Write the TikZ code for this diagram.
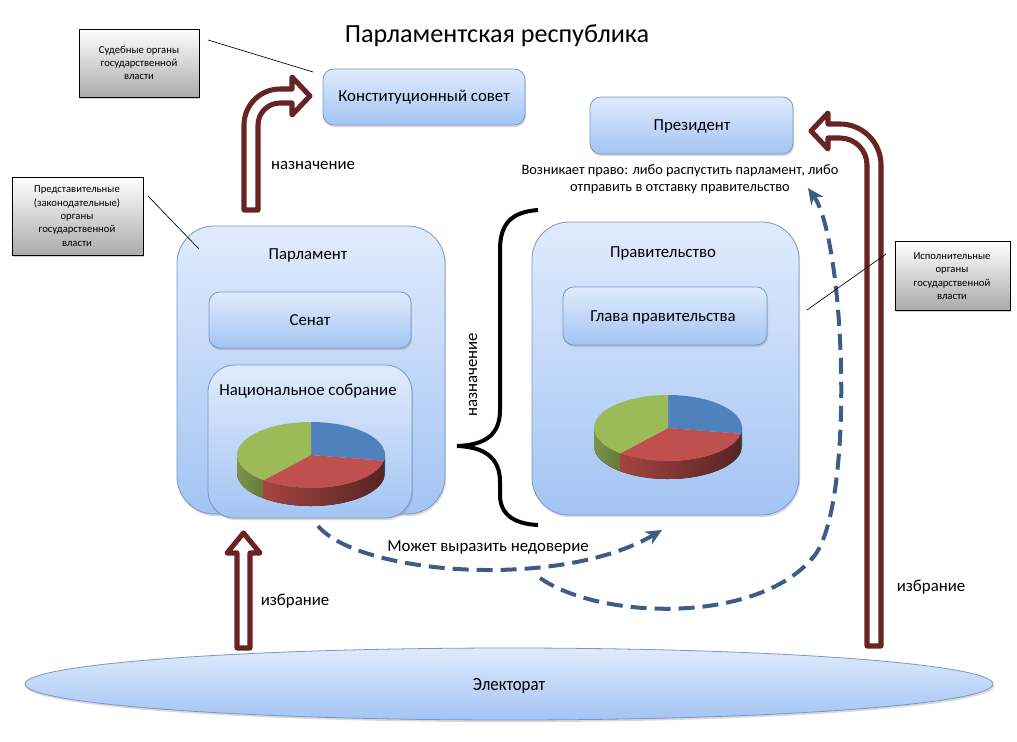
\documentclass[tikz,border=0pt]{standalone}
\usepackage{fontspec}
\setmainfont{Carlito}
\usetikzlibrary{shadows,fit,arrows.meta,shapes.geometric}
\definecolor{boxtop}{RGB}{224,235,252}
\definecolor{boxbot}{RGB}{163,196,243}
\definecolor{boxline}{RGB}{120,150,200}
\definecolor{arrowred}{RGB}{106,35,35}
\definecolor{dashblue}{RGB}{62,92,136}
\definecolor{pieblue}{RGB}{79,129,189}
\definecolor{piered}{RGB}{192,80,77}
\definecolor{piegreen}{RGB}{155,187,89}
\newcommand\drawpie[2]{%
  \begin{scope}[shift={(#1,#2)},yscale=-1]
    \fill[left color=piegreen!80!black, right color=piegreen!65!black]
      (-180:74 and 33) arc[start angle=-180,end angle=-130,x radius=74,y radius=33]
      -- ++(0,-18) arc[start angle=-130,end angle=-180,x radius=74,y radius=33] -- cycle;
    \fill[left color=piered!85!black, right color=piered!45!black]
      (-130:74 and 33) arc[start angle=-130,end angle=-10,x radius=74,y radius=33]
      -- ++(0,-18) arc[start angle=-10,end angle=-130,x radius=74,y radius=33] -- cycle;
    \fill[pieblue!60!black]
      (-10:74 and 33) arc[start angle=-10,end angle=0,x radius=74,y radius=33]
      -- ++(0,-18) arc[start angle=0,end angle=-10,x radius=74,y radius=33] -- cycle;
    \fill[pieblue] (0,0) -- (90:74 and 33) arc[start angle=90,end angle=-10,x radius=74,y radius=33] -- cycle;
    \fill[piered] (0,0) -- (-10:74 and 33) arc[start angle=-10,end angle=-130,x radius=74,y radius=33] -- cycle;
    \fill[piegreen] (0,0) -- (-130:74 and 33) arc[start angle=-130,end angle=-270,x radius=74,y radius=33] -- cycle;
  \end{scope}}
\begin{document}
\begin{tikzpicture}[x=0.75pt,y=-0.75pt,
  bluebox/.style={draw=boxline, line width=0.6pt, top color=boxtop, bottom color=boxbot,
    drop shadow={shadow xshift=0.8pt,shadow yshift=-1.6pt,opacity=0.3}, inner sep=0pt},
  notebox/.style={draw=black, line width=0.7pt, top color=white, bottom color=black!33,
    drop shadow={shadow xshift=1pt,shadow yshift=-1.5pt,opacity=0.35}, inner sep=0pt},
  lbl/.style={font=\fontsize{12.6}{15}\selectfont},
  notetxt/.style={align=center, font=\fontsize{8}{10}\selectfont},
  hollow/.style={draw=arrowred, fill=white, line width=3.8pt, line join=round},
  dasharrow/.style={draw=dashblue, line width=3pt, dash pattern=on 12pt off 6pt,
    -{Stealth[length=12pt,width=11pt]}},
  pointer/.style={draw=black, line width=0.5pt}]
\useasboundingbox (0,0) rectangle (1017,742);

% title
\node[font=\fontsize{19.6}{23}\selectfont] (title) at (497,36) {Парламентская республика};

% electorate
\node[ellipse, draw=boxline, line width=0.6pt, top color=boxtop, bottom color=boxbot,
  drop shadow={shadow xshift=0.8pt,shadow yshift=-1.6pt,opacity=0.3},
  minimum width=726pt, minimum height=54pt, inner sep=0pt] (elec) at (509,684) {};
\node[font=\fontsize{14}{16}\selectfont] (elecT) at (509,686) {\scalebox{0.9}[1]{Электорат}};

% big boxes
\node[bluebox, rounded corners=28pt, fit={(177,226) (445,514)}] (parl) {};
\node[bluebox, rounded corners=28pt, fit={(532,222) (799,515)}] (gov) {};
\node[bluebox, rounded corners=8pt, fit={(209,292) (411,348)}] (senat) {};
\node[bluebox, rounded corners=20pt, fit={(208,365) (412,518)}] (nac) {};
\node[bluebox, rounded corners=8pt, fit={(563,287) (767,345)}] (glava) {};
\node[bluebox, rounded corners=8pt, fit={(323,69) (525,125)}] (ks) {};
\node[bluebox, rounded corners=8pt, fit={(590,97) (793,154)}] (prez) {};

\node[lbl] (parlT) at (308,255) {Парламент};
\node[lbl] (senatT) at (310,320) {Сенат};
\node[lbl] (nacT) at (308,391) {Национальное собрание};
\node[lbl] (govT) at (663,253) {Правительство};
\node[lbl] (glavaT) at (663,317) {Глава правительства};
\node[lbl] (ksT) at (424,97) {Конституционный совет};
\node[lbl] (prezT) at (692,126) {Президент};

% pies
\drawpie{311}{455}
\drawpie{668}{428}

% notes
\node[notebox, fit={(79,29) (199,97)}] (n1) {};
\node[notetxt] (n1T) at (139,63) {Судебные органы\\государственной\\власти};
\node[notebox, fit={(12,177) (143,255)}] (n2) {};
\node[notetxt] (n2T) at (77,216) {Представительные\\(законодательные)\\органы\\государственной\\власти};
\node[notebox, fit={(895,241) (1010,310)}] (n3) {};
\node[notetxt] (n3T) at (952,276) {Исполнительные\\органы\\государственной\\власти};

% text
\node[align=center, font=\fontsize{10.8}{12.75}\selectfont] (pravo) at (680,179)
  {Возникает право: либо распустить парламент, либо\\отправить в отставку правительство};
\node[lbl] (naz1) at (313,165) {назначение};
\node[lbl, rotate=90] (naz2) at (473,375) {назначение};
\node[lbl] (izb1) at (295,601) {избрание};
\node[lbl] (izb2) at (931,587) {избрание};
\node[lbl] (nedov) at (488,547) {Может выразить недоверие};

% brace
\draw[line width=3pt] (538,210) .. controls (510,212) and (500,225) .. (500,250)
  -- (500,410) .. controls (500,435) and (485,445) .. (457,446)
  .. controls (485,447) and (500,458) .. (500,482)
  -- (500,495) .. controls (500,515) and (515,524) .. (538,525);

% hollow arrows
\draw[hollow] (237,648) -- (237,553) -- (227,553) -- (243.5,533) -- (260,553) -- (250,553) -- (250,648) -- cycle;
\draw[hollow] (244,210) -- (244,125) arc[start angle=180,end angle=270,radius=36]
  -- (292,89) -- (292,77) -- (310,96) -- (292,115) -- (292,103) -- (280,103)
  arc[start angle=270,end angle=180,radius=22] -- (258,210) -- cycle;
\draw[hollow] (867,646) -- (867,165) arc[start angle=0,end angle=-90,radius=27]
  -- (828,138) -- (828,149) -- (811,131) -- (828,113) -- (828,124) -- (840,124)
  arc[start angle=-90,end angle=0,radius=41] -- (881,646) -- cycle;

% dashed arrows
\coordinate (d1s) at (318,526);
\coordinate (d1e) at (662,530);
\draw[dasharrow] (d1s) .. controls (360,575) and (560,590) .. (d1e);
\coordinate (d2s) at (540,578);
\coordinate (d2e) at (808,188);
\draw[dasharrow] (d2s) .. controls (600,620) and (760,625) .. (815,555)
  .. controls (855,500) and (845,240) .. (d2e);

% pointer lines
\coordinate (p1a) at (208,40); \coordinate (p1b) at (313,72);
\coordinate (p2a) at (148,196); \coordinate (p2b) at (199,249);
\coordinate (p3a) at (886,254); \coordinate (p3b) at (807,310);
\draw[pointer] (p1a) -- (p1b);
\draw[pointer] (p2a) -- (p2b);
\draw[pointer] (p3a) -- (p3b);
\end{tikzpicture}
\end{document}
